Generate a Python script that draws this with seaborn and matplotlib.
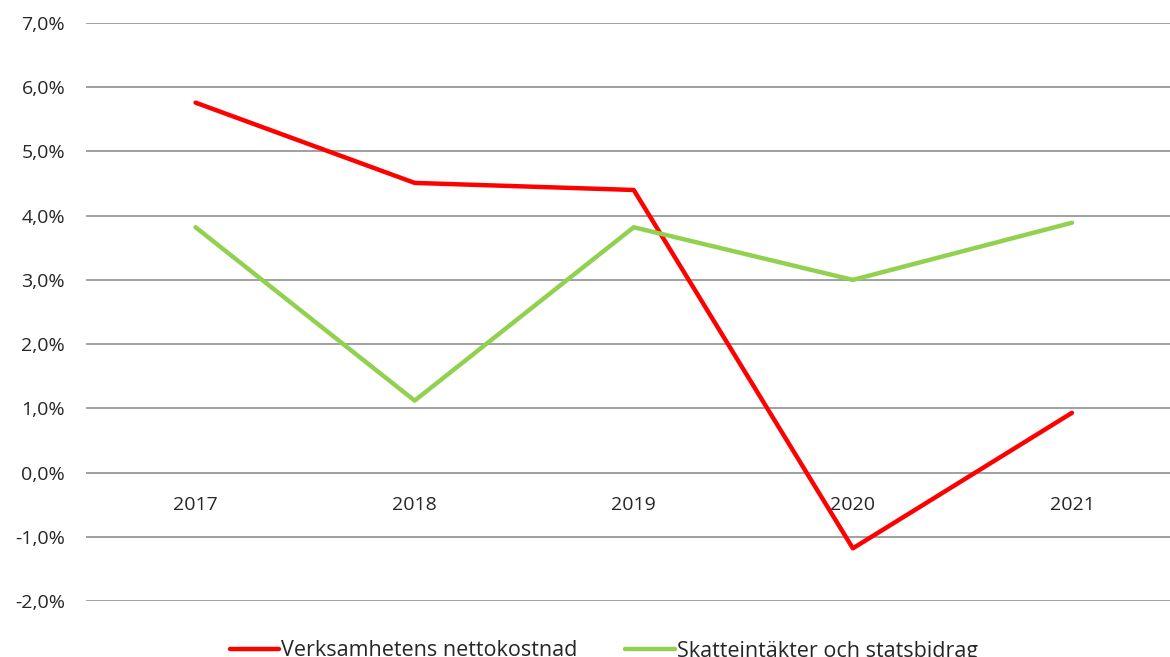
import matplotlib
matplotlib.use("Agg")
import matplotlib.pyplot as plt
import matplotlib.ticker as mticker
import seaborn as sns
import pandas as pd

years = ["2017", "2018", "2019", "2020", "2021"]
netto = [5.76, 4.51, 4.40, -1.18, 0.93]
skatt = [3.82, 1.12, 3.82, 3.00, 3.89]
series_names = ["Verksamhetens nettokostnad", "Skatteintäkter och statsbidrag"]
colors = ["#FF0000", "#92D050"]

df = pd.DataFrame({
    "year": years * 2,
    "value": netto + skatt,
    "series": [series_names[0]] * len(years) + [series_names[1]] * len(years),
})

sns.set_theme(style="white")
plt.rcParams["font.family"] = ["Open Sans", "DejaVu Sans"]

fig = plt.figure(figsize=(11.7, 6.57), dpi=100)
ax = fig.add_axes([86 / 1170, 1 - 601 / 657, (1181.5 - 86) / 1170, (601 - 23) / 657])

sns.lineplot(data=df, x="year", y="value", hue="series", palette=colors,
             linewidth=3.2, ax=ax, legend=True, sort=False)

ax.set_xlim(-0.5, 4.5)
ax.set_ylim(-2, 7)
ax.set_yticks(range(-2, 8))
ax.yaxis.set_major_formatter(mticker.FuncFormatter(lambda v, p: f"{v:.1f}%".replace(".", ",")))
ax.grid(axis="y", color="#A0A0A0", linewidth=1.4)
ax.grid(axis="x", visible=False)
ax.set_axisbelow(True)
for s in ["top", "right", "left"]:
    ax.spines[s].set_visible(False)
ax.spines["bottom"].set_position(("data", 0))
ax.spines["bottom"].set_visible(False)
ax.tick_params(axis="y", length=0, pad=15, labelsize=14, labelcolor="#262626")
ax.tick_params(axis="x", length=0, pad=17, labelsize=14, labelcolor="#262626")
ax.set_xlabel("")
ax.set_ylabel("")

handles, labels = ax.get_legend_handles_labels()
ax.get_legend().remove()
fig.legend(handles, labels, loc="center", bbox_to_anchor=(0.516, 1 - 651 / 657),
           ncol=2, frameon=False, fontsize=15.5, handlelength=2.3, columnspacing=2.2,
           handletextpad=0.1, labelcolor="#262626")

fig.savefig("out.png", dpi=100)
